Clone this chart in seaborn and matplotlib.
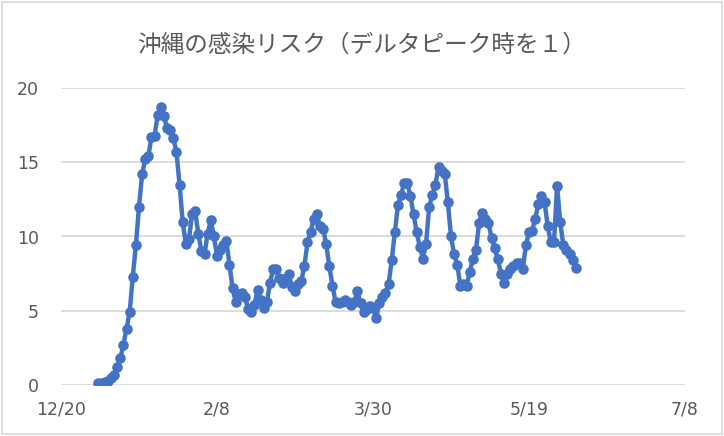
import matplotlib
matplotlib.use("Agg")
import matplotlib.pyplot as plt
import seaborn as sns
import pandas as pd
from matplotlib.patches import Rectangle

# ---- data ----
start_date = "2022-01-01"
risk = [
    0.12, 0.15, 0.2, 0.3, 0.45, 0.7, 1.2, 1.8, 2.7, 3.8,
    4.9, 7.3, 9.4, 12.0, 14.2, 15.2, 15.4, 16.7, 16.8, 18.2,
    18.7, 18.1, 17.3, 17.2, 16.6, 15.7, 13.5, 11.0, 9.5, 9.8,
    11.5, 11.7, 10.2, 9.0, 8.8, 10.2, 11.1, 10.0, 8.7, 9.1,
    9.4, 9.7, 8.1, 6.5, 5.6, 6.1, 6.2, 5.9, 5.1, 4.9,
    5.4, 6.4, 5.7, 5.2, 5.6, 6.9, 7.8, 7.8, 7.2, 6.9,
    7.2, 7.5, 6.6, 6.3, 6.8, 7.0, 8.0, 9.6, 10.3, 11.2,
    11.5, 10.7, 10.5, 9.5, 8.0, 6.7, 5.6, 5.5, 5.6, 5.7,
    5.6, 5.4, 5.6, 6.3, 5.5, 4.9, 5.1, 5.3, 5.2, 4.5,
    5.5, 5.9, 6.2, 6.8, 8.4, 10.3, 12.1, 12.8, 13.6, 13.6,
    12.7, 11.5, 10.3, 9.3, 8.5, 9.5, 12.0, 12.8, 13.5, 14.7,
    14.4, 14.2, 12.3, 10.0, 8.8, 8.1, 6.7, 6.8, 6.7, 7.6,
    8.5, 9.1, 10.9, 11.6, 11.2, 10.9, 9.9, 9.2, 8.5, 7.5,
    6.9, 7.5, 7.8, 8.0, 8.2, 8.2, 7.8, 9.4, 10.3, 10.4,
    11.2, 12.2, 12.7, 12.3, 10.7, 9.6, 9.6, 13.4, 11.0, 9.4,
    9.1, 8.8, 8.4, 7.9,
]
x_start = "2021-12-20"
x_end = "2022-07-08"
tick_dates = ["2021-12-20", "2022-02-08", "2022-03-30", "2022-05-19", "2022-07-08"]
tick_labels = ["12/20", "2/8", "3/30", "5/19", "7/8"]
y_ticks = [0, 5, 10, 15, 20]
title = "沖縄の感染リスク（デルタピーク時を１）"

df = pd.DataFrame({
    "date": pd.date_range(start_date, periods=len(risk), freq="D"),
    "risk": risk,
})

sns.set_theme(style="white")
plt.rcParams["font.family"] = ["DejaVu Sans"]

fig = plt.figure(figsize=(7.24, 4.36), dpi=100)
ax = fig.add_axes([61 / 724, 1 - 385 / 436, (685 - 61) / 724, (385 - 88) / 436])

line_color = "#4472C4"
sns.lineplot(data=df, x="date", y="risk", ax=ax, color=line_color,
             linewidth=3.2, marker="o", markersize=7.6,
             markeredgewidth=0, markerfacecolor=line_color)

ax.set_xlim(pd.Timestamp(x_start), pd.Timestamp(x_end))
ax.set_ylim(0, 20)
ax.set_xticks([pd.Timestamp(d) for d in tick_dates])
ax.set_xticklabels(tick_labels)
ax.set_yticks(y_ticks)
ax.set_yticklabels([str(v) for v in y_ticks])

ax.yaxis.grid(True, color="#D9D9D9", linewidth=1.3)
ax.xaxis.grid(False)
ax.set_axisbelow(True)
for s in ax.spines.values():
    s.set_visible(False)
ax.tick_params(axis="both", length=0, labelsize=12.5, colors="#595959")
ax.tick_params(axis="y", pad=16)
ax.tick_params(axis="x", pad=11)
ax.set_xlabel("")
ax.set_ylabel("")

fig.text(0.5, 1 - 45 / 436, title, ha="center", va="center",
         fontsize=17, color="#595959",
         family=["Noto Sans CJK JP", "DejaVu Sans"])

fig.patches.append(Rectangle((2 / 724, 2 / 436), 720 / 724, 432 / 436,
                             transform=fig.transFigure, fill=False,
                             edgecolor="#D9D9D9", linewidth=1.2))

fig.savefig("out.png", dpi=100)
